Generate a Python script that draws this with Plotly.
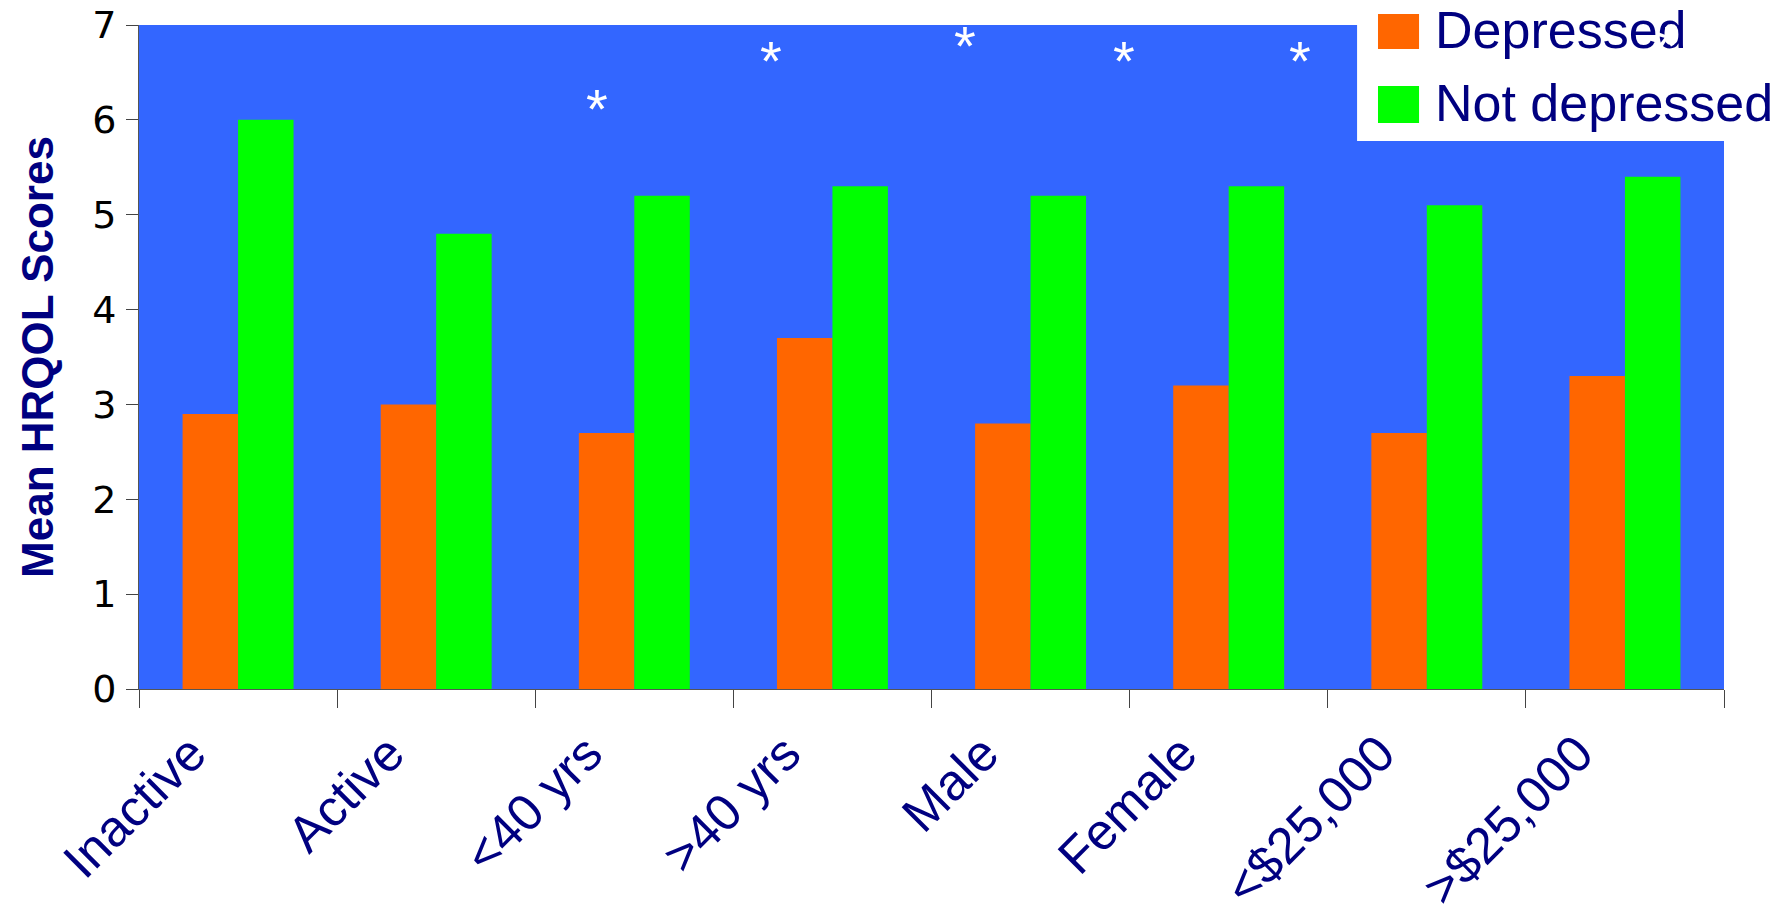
import plotly.graph_objects as go

categories = ["Inactive", "Active", "<40 yrs", ">40 yrs", "Male", "Female", "<$25,000", ">$25,000"]
depressed = [2.9, 3.0, 2.7, 3.7, 2.8, 3.2, 2.7, 3.3]
not_depressed = [6.0, 4.8, 5.2, 5.3, 5.2, 5.3, 5.1, 5.4]
series_names = ["Depressed", "Not depressed"]
y_ticks = [0, 1, 2, 3, 4, 5, 6, 7]
# significance markers (category index, value)
star_x = [1.81, 2.69, 3.67, 4.47, 5.36, 7.21]
star_y = [6.21, 6.72, 6.88, 6.72, 6.72, 6.88]

ORANGE = "#FF6600"
GREEN = "#00FF00"
BLUE = "#3366FF"
NAVY = "#000080"

fig = go.Figure()
fig.add_trace(go.Bar(x=categories, y=depressed, name=series_names[0],
                     marker=dict(color=ORANGE, line=dict(width=0)), showlegend=False))
fig.add_trace(go.Bar(x=categories, y=not_depressed, name=series_names[1],
                     marker=dict(color=GREEN, line=dict(width=0)), showlegend=False))

fig.update_layout(
    width=1786, height=904, autosize=False,
    margin=dict(l=139, r=62, t=25, b=215, pad=0),
    paper_bgcolor="white", plot_bgcolor=BLUE,
    barmode="group", bargap=0.44, bargroupgap=0,
    font=dict(family="Liberation Sans, Arial, sans-serif", color=NAVY),
)
fig.update_xaxes(
    type="category", tickson="boundaries", ticks="outside", ticklen=18,
    tickcolor="#444444", tickwidth=1, showline=True, linecolor="#555555", linewidth=1,
    showgrid=False, zeroline=False, tickangle=-45, automargin=False,
    ticklabelshift=-47, ticklabelstandoff=13, ticklabeloverflow="allow",
    tickfont=dict(family="Liberation Sans, Arial, sans-serif", size=51, color=NAVY),
)
fig.update_yaxes(
    range=[0, 7], tickvals=y_ticks, ticks="outside", ticklen=12,
    tickcolor="#444444", tickwidth=1, showline=True, linecolor="#555555", linewidth=1,
    showgrid=False, zeroline=False, automargin=False, ticklabeloverflow="allow",
    tickfont=dict(family="DejaVu Sans, Liberation Sans, sans-serif", size=38, color="black"),
    ticklabelstandoff=2,
    title=dict(text="<b>Mean HRQOL Scores</b>", standoff=24,
               font=dict(family="Liberation Sans, Arial, sans-serif", size=44, color=NAVY)),
)

# custom legend (white box with large swatches)
fig.add_shape(type="rect", xref="paper", yref="paper", x0=0.7685, x1=1.04, y0=0.8253, y1=1.04,
              fillcolor="white", line=dict(width=0), layer="above")
fig.add_shape(type="rect", xref="paper", yref="paper", x0=0.7817, x1=0.8076, y0=0.9639, y1=1.0166,
              fillcolor=ORANGE, line=dict(width=0), layer="above")
fig.add_shape(type="rect", xref="paper", yref="paper", x0=0.7817, x1=0.8076, y0=0.8524, y1=0.9081,
              fillcolor=GREEN, line=dict(width=0), layer="above")
fig.add_annotation(xref="paper", yref="paper", x=0.8164, y=0.9932, text=series_names[0],
                   xanchor="left", yanchor="middle", showarrow=False,
                   font=dict(family="Liberation Sans, Arial, sans-serif", size=52, color=NAVY))
fig.add_annotation(xref="paper", yref="paper", x=0.8164, y=0.8818, text=series_names[1],
                   xanchor="left", yanchor="middle", showarrow=False,
                   font=dict(family="Liberation Sans, Arial, sans-serif", size=52, color=NAVY))

for sx, sy in zip(star_x, star_y):
    fig.add_annotation(x=sx, y=sy, xref="x", yref="y", text="*", showarrow=False,
                       xanchor="center", yanchor="middle", yshift=-9,
                       font=dict(family="Liberation Sans, Arial, sans-serif", size=56, color="white"))

fig.write_html("out.html", config={"displayModeBar": False},
               post_script="document.body.style.margin='0';document.body.style.overflow='hidden';")
